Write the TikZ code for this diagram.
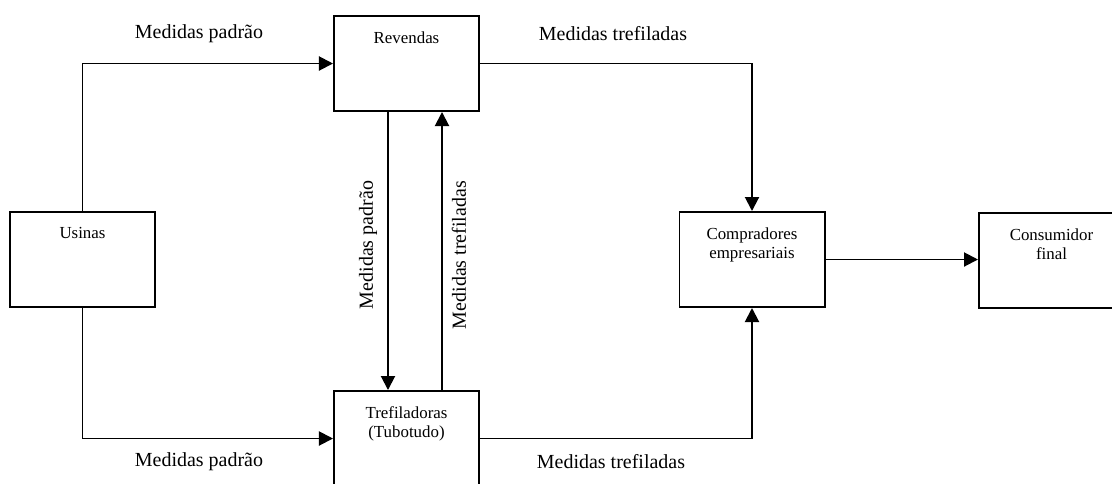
\documentclass[tikz,border=0pt]{standalone}
\usepackage{fontspec}
\setmainfont{Liberation Serif}
\usetikzlibrary{arrows.meta}
\tikzset{
  caixa/.style={draw, line width=1.4pt, minimum width=3.625cm, minimum height=2.375cm, inner sep=0pt},
  nome/.style={anchor=north, yshift=-0.41cm, inner sep=0pt, align=center, font=\fontsize{12}{13.6}\selectfont},
  fluxo/.style={draw, line width=1.4pt, -{Triangle[length=0.35cm, width=0.35cm]}},
  rotulo/.style={font=\fontsize{14.2}{16}\selectfont, inner sep=0pt}
}
\begin{document}
\begin{tikzpicture}[x=0.025cm, y=-0.025cm]
\useasboundingbox (0,0) rectangle (1112,483);
\node[caixa, label={[nome]north:Usinas}] (usi) at (82.5,259.5) {};
\node[caixa, label={[nome]north:Revendas}] (rev) at (406.5,63.5) {};
\node[caixa, label={[nome]north:Trefiladoras\\(Tubotudo)}] (tref) at (406.5,438.5) {};
\node[caixa, label={[nome]north:Compradores\\empresariais}] (comp) at (752,259.5) {};
\node[caixa, label={[nome]north:Consumidor\\final}] (cons) at (1051.5,260.5) {};
\node[rotulo] (l1) at (199,34) {Medidas padrão};
\node[rotulo] (l2) at (199,462) {Medidas padrão};
\node[rotulo] (l3) at (613,34) {Medidas trefiladas};
\node[rotulo] (l4) at (611,462) {Medidas trefiladas};
\node[rotulo, rotate=90] (l5) at (368,245) {Medidas padrão};
\node[rotulo, rotate=90] (l6) at (459,255) {Medidas trefiladas};
\path[fluxo] (usi.north) |- (rev.west);
\path[fluxo] (usi.south) |- (tref.west);
\path[fluxo] ([xshift=-0.4625cm]rev.south) -- ([xshift=-0.4625cm]tref.north);
\path[fluxo] ([xshift=0.8875cm]tref.north) -- ([xshift=0.8875cm]rev.south);
\path[fluxo] (rev.east) -| (comp.north);
\path[fluxo] (tref.east) -| (comp.south);
\path[fluxo] (comp.east) -- (comp.east -| cons.west);
\end{tikzpicture}
\end{document}
